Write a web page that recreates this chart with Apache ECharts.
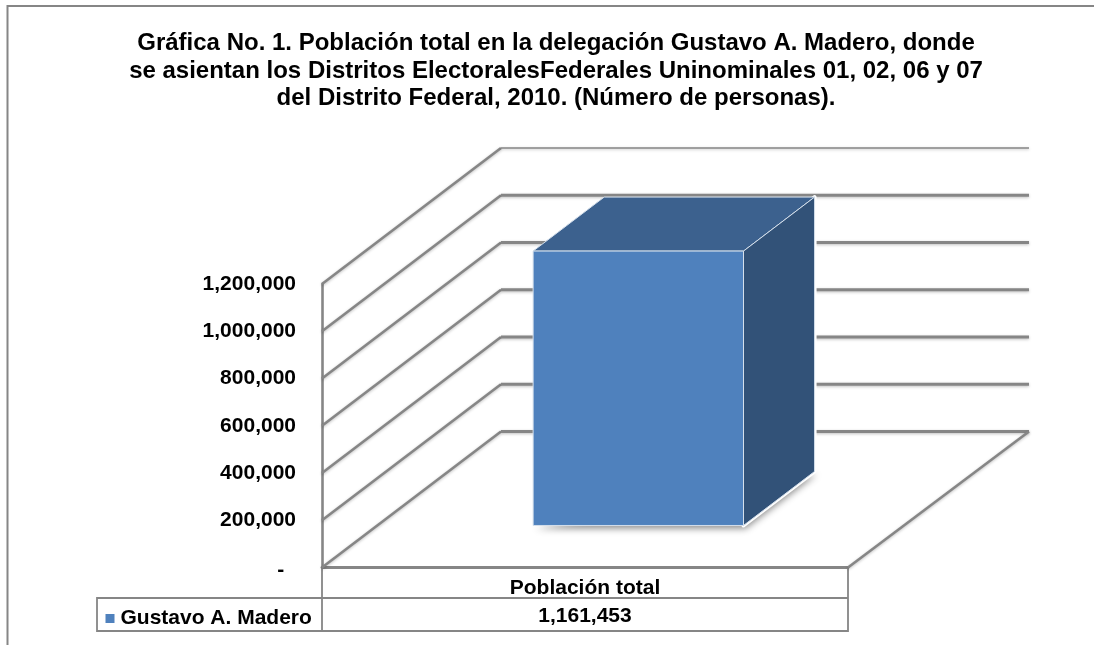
<!DOCTYPE html>
<html>
<head>
<meta charset="utf-8">
<style>
  html, body { margin: 0; padding: 0; background: #fff; }
  #main { width: 1094px; height: 645px; }
</style>
<script src="https://cdn.jsdelivr.net/npm/echarts@6/dist/echarts.min.js"></script>
</head>
<body>
<div id="main"></div>
<script>
// datos de la grafica
const titleLines = [
  'Gráfica No. 1. Población total en la delegación Gustavo A. Madero, donde',
  'se asientan los Distritos ElectoralesFederales Uninominales 01, 02, 06 y 07',
  'del Distrito Federal, 2010. (Número de personas).'
];
const categories = ['Población total'];
const seriesName = 'Gustavo A. Madero';
const seriesValues = [1161453];
const yTicks = [0, 200000, 400000, 600000, 800000, 1000000, 1200000];

const fontFamily = '"Liberation Sans", Arial, sans-serif';
const gridColor = '#868686';
// desplazamiento de la pared trasera respecto al plano frontal
const depth = { x: 179, y: -136 };
const backExtra = 2; // la pared trasera es un poco mas ancha
// el prisma ocupa esta fraccion de la profundidad
const barDepth = { front: 0.309, back: 0.706 };
const barWidthRatio = 0.4;
const barShiftX = -2;

function formatNumber(v) {
  return v === 0 ? '{dash|-}  ' : v.toLocaleString('en-US');
}

function lineStyle(width) {
  return {
    fill: null, stroke: gridColor, lineWidth: width,
    shadowBlur: 3, shadowColor: 'rgba(0,0,0,0.25)', shadowOffsetY: 1
  };
}

function renderWall(params, api) {
  const v = api.value(1);
  const cs = params.coordSys;
  const y = api.coord([0, v])[1];
  const x0 = cs.x, x1 = cs.x + cs.width;
  const isTop = v === yTicks[yTicks.length - 1];
  const children = [
    {
      type: 'line',
      shape: { x1: x0, y1: y, x2: x0 + depth.x, y2: y + depth.y },
      style: lineStyle(2.6)
    },
    {
      type: 'line',
      shape: { x1: x0 + depth.x, y1: y + depth.y, x2: x1 + depth.x + backExtra, y2: y + depth.y },
      style: lineStyle(isTop ? 1.4 : 2.8)
    }
  ];
  // suelo: diagonal derecha
  if (v === 0) {
    children.push({
      type: 'line',
      shape: { x1: x1, y1: y, x2: x1 + depth.x + backExtra, y2: y + depth.y },
      style: lineStyle(2.6)
    });
  }
  return { type: 'group', children: children };
}

function renderBar(params, api) {
  const top = api.coord([api.value(0), api.value(1)]);
  const base = api.coord([api.value(0), 0]);
  const w = api.size([1, 0])[0] * barWidthRatio;
  const fx = depth.x * barDepth.front, fy = depth.y * barDepth.front;
  const bx = depth.x * barDepth.back, by = depth.y * barDepth.back;
  const l = top[0] - w / 2 + barShiftX, r = top[0] + w / 2 + barShiftX;
  const edge = '#d5e0ec';
  const P = (x, y, d) => [x + d[0], y + d[1]];
  const f = [fx, fy], b = [bx, by];
  return {
    type: 'group',
    children: [
      {
        // sombra sobre el suelo
        type: 'polygon',
        shape: { points: [P(l, base[1], f), P(r, base[1], f), P(r, base[1], b)] },
        style: { fill: '#325278', shadowBlur: 7, shadowColor: 'rgba(0,0,0,0.45)', shadowOffsetX: 2, shadowOffsetY: 3 }
      },
      {
        // separa las lineas de la pared del prisma
        type: 'polygon',
        shape: { points: [P(r, top[1], f), P(r, top[1], b), P(r, base[1], b), P(r, base[1], f)] },
        style: { fill: '#325278', stroke: '#fff', lineWidth: 4, lineJoin: 'round' }
      },
      {
        type: 'polygon',
        shape: { points: [P(l, top[1], f), P(r, top[1], f), P(r, top[1], b), P(l, top[1], b)] },
        style: { fill: '#3C618E', stroke: edge, lineWidth: 1, lineJoin: 'round' }
      },
      {
        type: 'polygon',
        shape: { points: [P(r, top[1], f), P(r, top[1], b), P(r, base[1], b), P(r, base[1], f)] },
        style: { fill: '#325278', stroke: edge, lineWidth: 1, lineJoin: 'round' }
      },
      {
        type: 'polygon',
        shape: { points: [P(l, top[1], f), P(r, top[1], f), P(r, base[1], f), P(l, base[1], f)] },
        style: { fill: '#4F81BD', stroke: edge, lineWidth: 1, lineJoin: 'round' }
      }
    ]
  };
}

function renderTableValue(params, api) {
  const p = api.coord([api.value(0), 0]);
  return {
    type: 'text',
    style: {
      x: p[0], y: p[1] + 49, text: api.value(1).toLocaleString('en-US'),
      textAlign: 'center', textVerticalAlign: 'middle',
      font: 'bold 21px ' + fontFamily, fill: '#000'
    }
  };
}

const chart = echarts.init(document.getElementById('main'), null, { renderer: 'canvas' });

const tableLine = { stroke: gridColor, lineWidth: 1.8 };
const x0 = 322, x1 = 848, yBase = 567.5, yRow = 598, yEnd = 631, xLegend = 97;

chart.setOption({
  animation: false,
  backgroundColor: '#fff',
  title: {
    text: titleLines.join('\n'),
    left: 551,
    top: 25,
    textAlign: 'center',
    textStyle: { fontFamily: fontFamily, fontWeight: 'bold', fontSize: 24, lineHeight: 27.5, color: '#000' }
  },
  legend: {
    data: [{ name: seriesName, icon: 'rect' }],
    left: 100.5,
    top: 603,
    itemWidth: 9,
    itemHeight: 9,
    itemGap: 5,
    selectedMode: false,
    textStyle: { fontFamily: fontFamily, fontWeight: 'bold', fontSize: 21, color: '#000', padding: [0, 0, 0, 1] }
  },
  grid: { left: x0, width: x1 - x0, top: 284, height: yBase - 284 },
  xAxis: {
    type: 'category',
    data: categories,
    axisTick: { show: false },
    axisLine: { show: true, lineStyle: { color: gridColor, width: 2.8 } },
    axisLabel: { margin: 10, fontFamily: fontFamily, fontWeight: 'bold', fontSize: 21, color: '#000' }
  },
  yAxis: {
    type: 'value',
    min: 0,
    max: 1200000,
    interval: 200000,
    splitLine: { show: false },
    axisTick: { show: false },
    axisLine: { show: true, lineStyle: { color: gridColor, width: 2.6 } },
    axisLabel: {
      margin: 26, fontFamily: fontFamily, fontWeight: 'bold', fontSize: 21, color: '#000',
      formatter: formatNumber,
      rich: { dash: { fontFamily: fontFamily, fontWeight: 'bold', fontSize: 21, color: '#000', padding: [6, 0, 0, 0] } }
    }
  },
  graphic: [
    { type: 'polyline', silent: true, z: 0, shape: { points: [[7.5, 645], [7.5, 6], [1094, 6]] }, style: { fill: null, stroke: gridColor, lineWidth: 2 } },
    { type: 'polyline', silent: true, z: 0, shape: { points: [[x0, yBase], [x0, yEnd], [xLegend, yEnd], [xLegend, yRow], [x1, yRow]] }, style: Object.assign({ fill: null }, tableLine) },
    { type: 'polyline', silent: true, z: 0, shape: { points: [[x1, yBase], [x1, yEnd], [x0, yEnd]] }, style: Object.assign({ fill: null }, tableLine) }
  ],
  series: [
    {
      type: 'custom',
      name: 'paredes',
      coordinateSystem: 'cartesian2d',
      clip: false,
      silent: true,
      renderItem: renderWall,
      data: yTicks.map(v => [0, v]),
      z: 1
    },
    {
      type: 'custom',
      name: seriesName,
      coordinateSystem: 'cartesian2d',
      clip: false,
      silent: true,
      itemStyle: { color: '#4F81BD' },
      renderItem: renderBar,
      data: seriesValues.map((v, i) => [i, v]),
      z: 2
    },
    {
      type: 'custom',
      name: 'tabla',
      coordinateSystem: 'cartesian2d',
      clip: false,
      silent: true,
      renderItem: renderTableValue,
      data: seriesValues.map((v, i) => [i, v]),
      z: 3
    }
  ]
});
</script>
</body>
</html>
